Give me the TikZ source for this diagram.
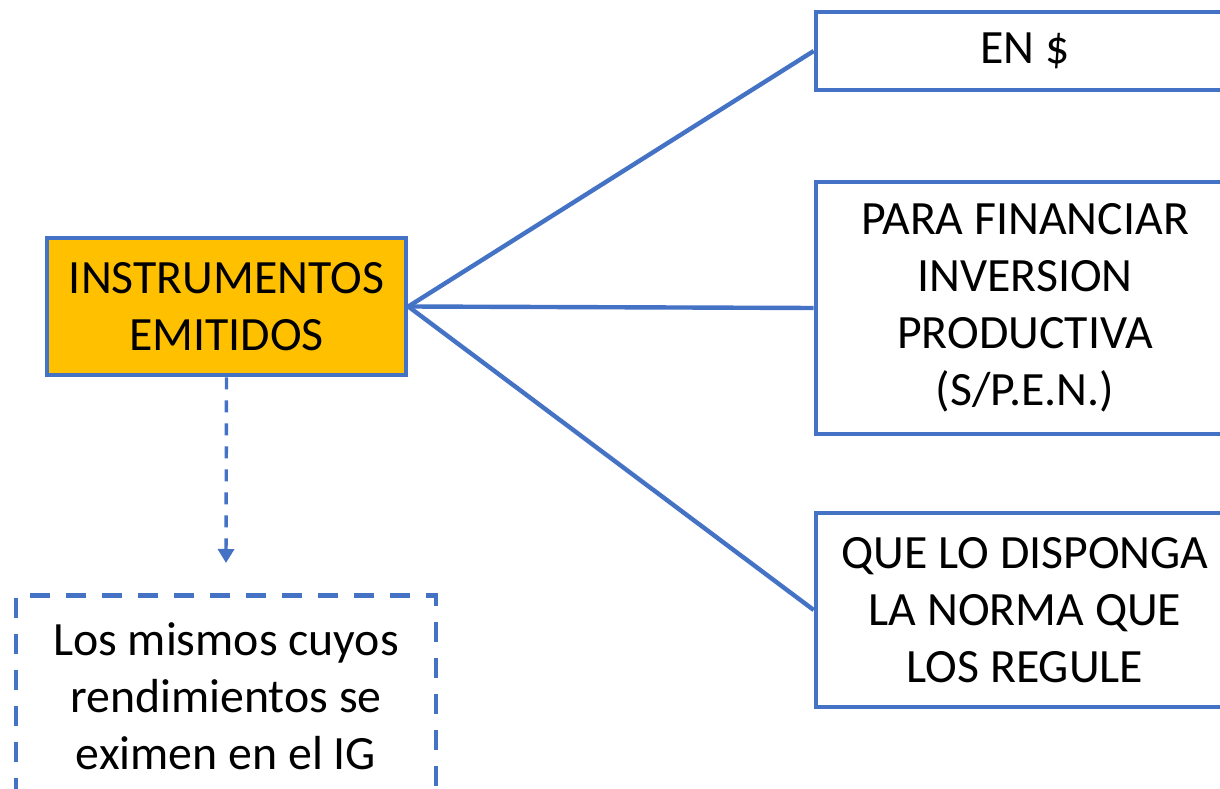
\documentclass[tikz,border=0pt]{standalone}
\usepackage{fontspec}
\setmainfont{Carlito}
\usetikzlibrary{arrows.meta}
\definecolor{azul}{HTML}{4472C4}
\definecolor{naranja}{HTML}{FFC000}

\begin{document}
\begin{tikzpicture}[x=0.5pt, y=0.5pt,
	caja/.style={draw=azul, line width=2.3pt, align=center, inner sep=0pt,
		font=\fontsize{23.9}{28.5}\selectfont},
	rama/.style={draw=azul, line width=2.2pt},
	punteada/.style={draw=azul, line width=1.7pt, dash pattern=on 6pt off 5.5pt,
		-{Triangle[width=8pt,length=7pt]}}]
	\useasboundingbox (0,0) rectangle (1220,788);
	\clip (0,0) rectangle (1220,788);
	\node[caja, fill=naranja, minimum width=179.5pt, minimum height=68.5pt] (instr) at (226.5,481.5) {INSTRUMENTOS\\EMITIDOS};
	\node[caja, fill=white, minimum width=209pt, minimum height=39pt] (pesos) at (1025,737) {EN \$};
	\node[caja, fill=white, minimum width=209pt, minimum height=126pt] (financiar) at (1025,480) {PARA FINANCIAR\\INVERSION\\PRODUCTIVA\\(S/P.E.N.)};
	\node[caja, fill=white, minimum width=209pt, minimum height=97pt] (norma) at (1025,178) {QUE LO DISPONGA\\LA NORMA QUE\\LOS REGULE};
	\node[caja, dash pattern=on 10pt off 8pt, minimum width=210pt, minimum height=101pt] (mismos) at (226,91.5) {Los mismos cuyos\\rendimientos se\\eximen en el IG};
	\coordinate (punta) at (226,225);
	\draw[rama] (instr.east) -- (pesos.west);
	\draw[rama] (instr.east) -- (financiar.west);
	\draw[rama] (instr.east) -- (norma.west);
	\draw[punteada] (instr.south) -- (punta);
\end{tikzpicture}
\end{document}
